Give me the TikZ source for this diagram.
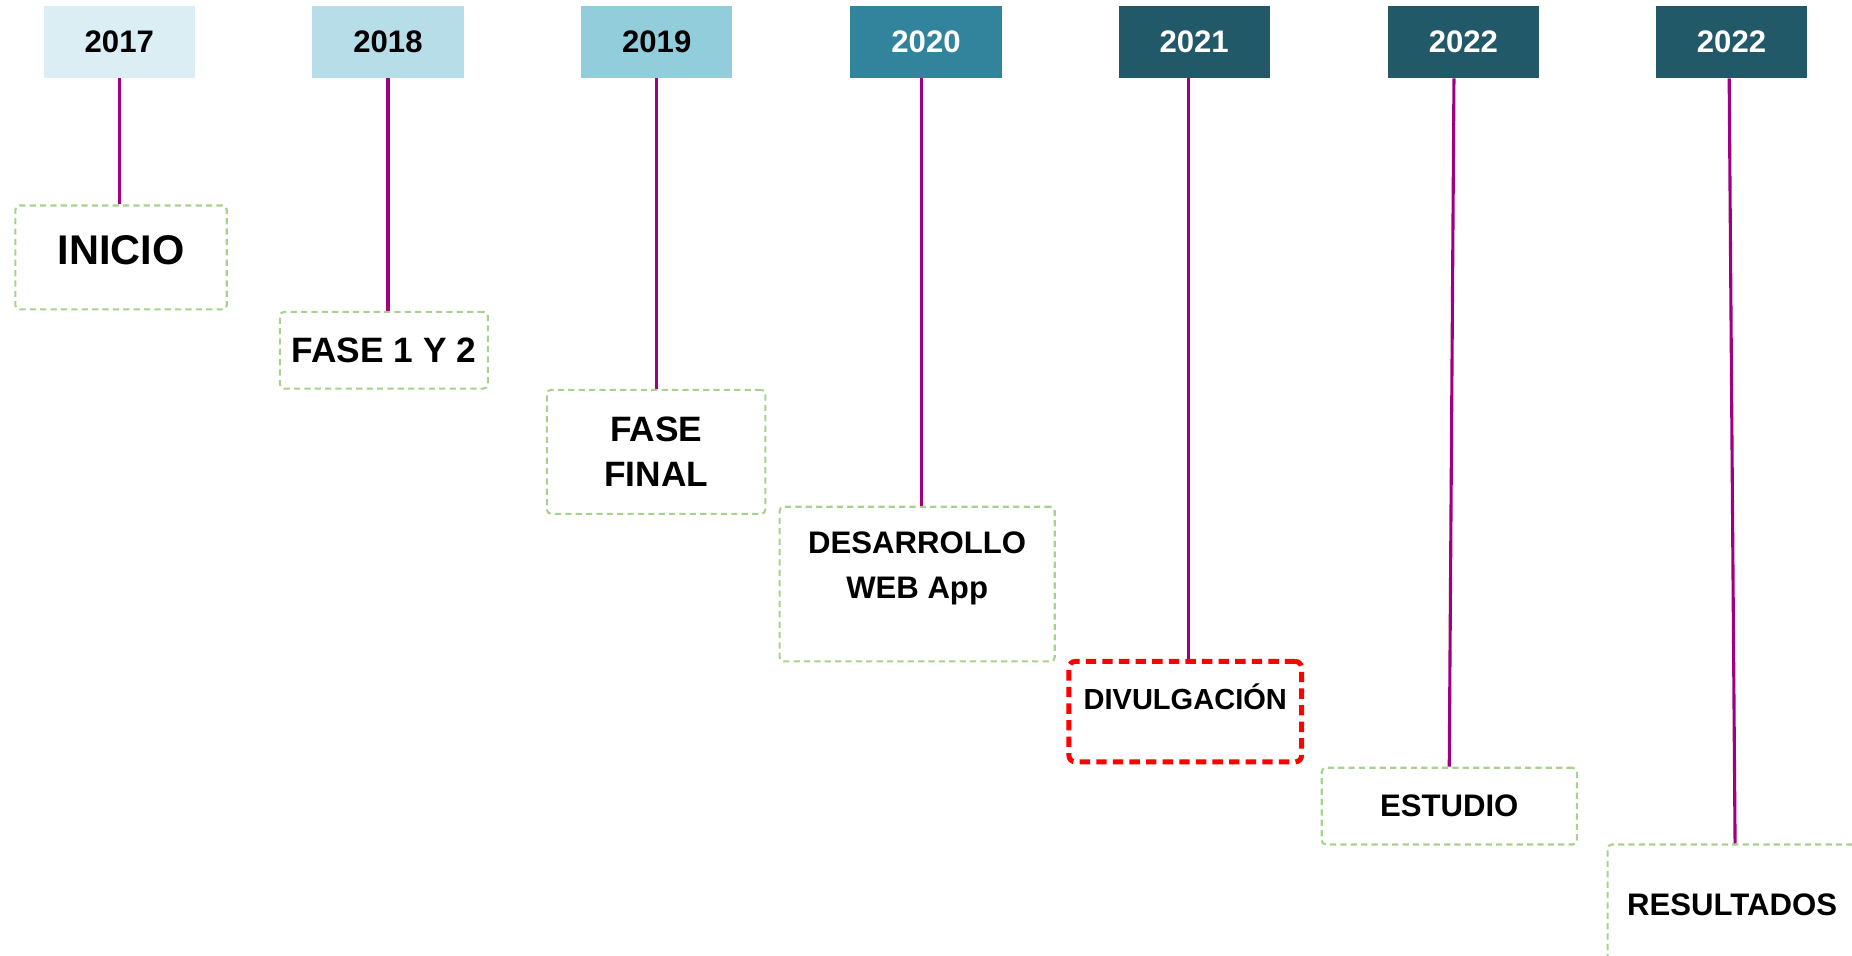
\documentclass[tikz,border=0pt]{standalone}
\usepackage{fontspec}
\setmainfont{Liberation Sans}
\usepackage{xcolor}
\usepackage{tikz}
\usetikzlibrary{positioning, calc}

\definecolor{yrA}{HTML}{DAEEF3}
\definecolor{yrB}{HTML}{B7DEE8}
\definecolor{yrC}{HTML}{92CDDC}
\definecolor{yrD}{HTML}{31849B}
\definecolor{yrE}{HTML}{215968}
\definecolor{stemc}{HTML}{A0007F}
\definecolor{boxg}{HTML}{A9D18E}

\begin{document}
\begin{tikzpicture}[x=0.02cm, y=-0.02cm]
		
		\tikzstyle{year}=[rectangle, draw=none, minimum width=2.56cm, minimum height=1.22cm, inner sep=0pt, font=\bfseries\fontsize{15}{18}\selectfont]
		\tikzstyle{phase}=[rectangle, draw=boxg, dash pattern=on 3pt off 2pt, line width=1pt, rounded corners=2pt, inner sep=0pt, align=center, font=\bfseries\fontsize{15}{21.5}\selectfont]
		\tikzstyle{stem}=[draw=stemc, line width=1.5pt]
		
		\clip (0,0) rectangle (1568,809);
		
		\node (yr1) at (101,35.5) [year, fill=yrA] {2017};
		\node (yr2) at (328.5,35.5) [year, fill=yrB] {2018};
		\node (yr3) at (556,35.5) [year, fill=yrC] {2019};
		\node (yr4) at (784,35.5) [year, fill=yrD, text=white] {2020};
		\node (yr5) at (1011,35.5) [year, fill=yrE, text=white] {2021};
		\node (yr6) at (1239,35.5) [year, fill=yrE, text=white] {2022};
		\node (yr7) at (1466,35.5) [year, fill=yrE, text=white] {2022};
		
		\node (ph1) at (102.5,218) [phase, minimum width=3.58cm, minimum height=1.76cm, font=\bfseries\fontsize{20}{24}\selectfont, text depth=0.24cm] {INICIO};
		\node (ph2) at (325,296.5) [phase, minimum width=3.52cm, minimum height=1.3cm, font=\bfseries\fontsize{17}{21.5}\selectfont] {FASE 1 Y 2};
		\node (ph3) at (555.5,382.5) [phase, minimum width=3.7cm, minimum height=2.1cm, font=\bfseries\fontsize{17}{21.5}\selectfont] {FASE\\FINAL};
		\node (ph4) at (776.5,494.5) [phase, minimum width=4.66cm, minimum height=2.62cm, text depth=0.65cm] {DESARROLLO\\WEB App};
		\node (ph5) at (1003.5,602.5) [phase, draw=red, dash pattern=on 5pt off 3pt, line width=2.4pt, rounded corners=3pt, minimum width=3.94cm, minimum height=1.7cm, font=\bfseries\fontsize{14}{17}\selectfont, text depth=0.5cm] {DIVULGACIÓN};
		\node (ph6) at (1227,682.5) [phase, minimum width=4.32cm, minimum height=1.3cm] {ESTUDIO};
		\node (ph7) at (1466.5,766) [phase, minimum width=4.22cm, minimum height=2.04cm] {RESULTADOS};
		
		\draw [stem] (yr1.south) -- (yr1.south |- ph1.north);
		\draw [stem] (yr2.south) -- (yr2.south |- ph2.north);
		\draw [stem] (yr3.south) -- (yr3.south |- ph3.north);
		\draw [stem] ([xshift=-0.08cm]yr4.south) -- ([xshift=-0.08cm]yr4.south |- ph4.north);
		\draw [stem] ([xshift=-0.1cm]yr5.south) -- ([xshift=-0.1cm]yr5.south |- ph5.north);
		\draw [stem] ([xshift=-0.16cm]yr6.south) -- (ph6.north);
		\draw [stem] ([xshift=-0.04cm]yr7.south) -- ([xshift=0.05cm]ph7.north);
		
\end{tikzpicture}
\end{document}
